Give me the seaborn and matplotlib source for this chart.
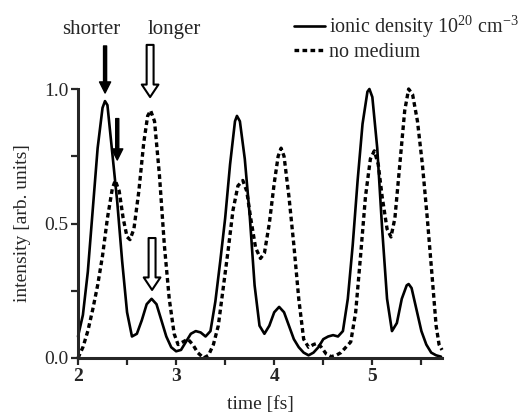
import matplotlib
matplotlib.use("Agg")
import matplotlib.pyplot as plt
import seaborn as sns
from matplotlib.ticker import MultipleLocator, FormatStrFormatter

# values
time_ion = [2.00, 2.05, 2.10, 2.15, 2.20, 2.25, 2.275, 2.30, 2.35, 2.40, 2.45, 2.50,
            2.55, 2.60, 2.65, 2.70, 2.75, 2.80, 2.85, 2.90, 2.95, 3.00, 3.05, 3.10,
            3.15, 3.20, 3.25, 3.30, 3.35, 3.40, 3.45, 3.50, 3.55, 3.60, 3.62, 3.65,
            3.70, 3.75, 3.80, 3.85, 3.90, 3.95, 4.00, 4.05, 4.10, 4.15, 4.20, 4.25,
            4.30, 4.35, 4.40, 4.45, 4.50, 4.55, 4.60, 4.65, 4.70, 4.75, 4.80, 4.85,
            4.90, 4.95, 4.97, 5.00, 5.05, 5.10, 5.15, 5.20, 5.25, 5.30, 5.35, 5.37,
            5.40, 5.45, 5.50, 5.55, 5.60, 5.65, 5.70]
ionic = [0.08, 0.16, 0.32, 0.55, 0.78, 0.93, 0.955, 0.94, 0.76, 0.58, 0.36, 0.17,
         0.08, 0.09, 0.14, 0.20, 0.22, 0.20, 0.14, 0.08, 0.04, 0.025, 0.03, 0.06,
         0.09, 0.10, 0.095, 0.08, 0.10, 0.21, 0.36, 0.52, 0.72, 0.88, 0.90, 0.88,
         0.74, 0.53, 0.27, 0.12, 0.09, 0.12, 0.17, 0.19, 0.17, 0.12, 0.07, 0.04,
         0.02, 0.01, 0.02, 0.04, 0.07, 0.08, 0.085, 0.08, 0.10, 0.22, 0.42, 0.66,
         0.87, 0.99, 1.00, 0.97, 0.78, 0.48, 0.22, 0.10, 0.13, 0.22, 0.27, 0.275,
         0.26, 0.18, 0.10, 0.05, 0.02, 0.01, 0.005]

time_free = [2.00, 2.05, 2.10, 2.15, 2.20, 2.25, 2.30, 2.35, 2.38, 2.42, 2.46, 2.50,
             2.53, 2.57, 2.62, 2.67, 2.71, 2.74, 2.78, 2.83, 2.88, 2.93, 2.98, 3.02,
             3.07, 3.12, 3.17, 3.22, 3.28, 3.33, 3.38, 3.43, 3.48, 3.53, 3.58, 3.63,
             3.68, 3.72, 3.76, 3.81, 3.86, 3.90, 3.95, 4.00, 4.04, 4.07, 4.10, 4.15,
             4.20, 4.25, 4.30, 4.35, 4.40, 4.44, 4.48, 4.53, 4.58, 4.63, 4.68, 4.73,
             4.78, 4.83, 4.88, 4.93, 4.98, 5.02, 5.06, 5.10, 5.15, 5.19, 5.23, 5.28,
             5.33, 5.37, 5.41, 5.46, 5.51, 5.56, 5.61, 5.65, 5.68, 5.71]
no_medium = [0.00, 0.04, 0.10, 0.18, 0.27, 0.38, 0.52, 0.63, 0.66, 0.62, 0.52, 0.45,
             0.44, 0.48, 0.62, 0.80, 0.90, 0.92, 0.88, 0.68, 0.42, 0.22, 0.09, 0.05,
             0.06, 0.07, 0.05, 0.02, 0.00, 0.01, 0.05, 0.12, 0.26, 0.40, 0.55, 0.64,
             0.66, 0.62, 0.52, 0.41, 0.37, 0.39, 0.50, 0.65, 0.75, 0.78, 0.75, 0.60,
             0.42, 0.22, 0.07, 0.04, 0.05, 0.055, 0.04, 0.015, 0.005, 0.01, 0.02, 0.04,
             0.06, 0.17, 0.38, 0.60, 0.74, 0.77, 0.72, 0.60, 0.48, 0.45, 0.52, 0.72,
             0.92, 1.00, 0.98, 0.88, 0.72, 0.52, 0.30, 0.12, 0.05, 0.03]

x_ticks = [2, 3, 4, 5]
y_ticks = [0.0, 0.5, 1.0]

sns.set_style("ticks")
plt.rcParams["font.family"] = ["Liberation Serif", "DejaVu Serif"]
plt.rcParams["mathtext.fontset"] = "custom"
plt.rcParams["mathtext.rm"] = "Liberation Serif"
plt.rcParams["mathtext.it"] = "Liberation Serif:italic"

fig = plt.figure(figsize=(5.27, 4.16), dpi=100)
ax = fig.add_axes([78 / 527, 58 / 416, 364 / 527, 269 / 416])

sns.lineplot(x=time_ion, y=ionic, ax=ax, color="black", lw=1.9, sort=False,
             label=r"ionic density 10$^{20}$ cm$^{-3}$", clip_on=False)
sns.lineplot(x=time_free, y=no_medium, ax=ax, color="black", lw=2.4, sort=False,
             linestyle=(0, (1.4, 1.0)), label="no medium", clip_on=False)

ax.set_xlim(2, 5.71)
ax.set_ylim(0, 1.0)
ax.set_xticks(x_ticks)
ax.set_yticks(y_ticks)
ax.xaxis.set_minor_locator(MultipleLocator(0.5))
ax.yaxis.set_minor_locator(MultipleLocator(0.25))
ax.yaxis.set_major_formatter(FormatStrFormatter("%.1f"))
for s in ["top", "right"]:
    ax.spines[s].set_visible(False)
for s in ["left", "bottom"]:
    ax.spines[s].set_linewidth(2.2)
ax.tick_params(which="both", direction="out", length=5, width=1.6, labelsize=14, pad=2)
for lab in ax.get_xticklabels():
    lab.set_fontweight("bold")

ax.set_xlabel("time [fs]", fontsize=14, labelpad=8)
ax.set_ylabel("intensity [arb. units]", fontsize=14, labelpad=9)

# annotations
ax.text(2.133, 1.223, "shorter", fontsize=15, ha="center", va="center")
ax.text(2.98, 1.223, "longer", fontsize=15, ha="center", va="center")
solid = dict(facecolor="black", edgecolor="black", width=2.2, headwidth=8, headlength=8)
hollow = dict(facecolor="white", edgecolor="black", lw=1.5, width=5, headwidth=12, headlength=9)
ax.annotate("", xy=(2.276, 0.985), xytext=(2.276, 1.16), arrowprops=solid, annotation_clip=False)
ax.annotate("", xy=(2.40, 0.736), xytext=(2.40, 0.89), arrowprops=solid, annotation_clip=False)
ax.annotate("", xy=(2.735, 0.97), xytext=(2.735, 1.164), arrowprops=hollow, annotation_clip=False)
ax.annotate("", xy=(2.755, 0.253), xytext=(2.755, 0.446), arrowprops=hollow, annotation_clip=False)

ax.legend(loc="upper left", bbox_to_anchor=(286 / 527, 1 - 6 / 416),
          bbox_transform=fig.transFigure, frameon=False, fontsize=14.5,
          handlelength=1.55, handletextpad=0.2, labelspacing=0.12, borderaxespad=0)

fig.savefig("out.png", dpi=100)
